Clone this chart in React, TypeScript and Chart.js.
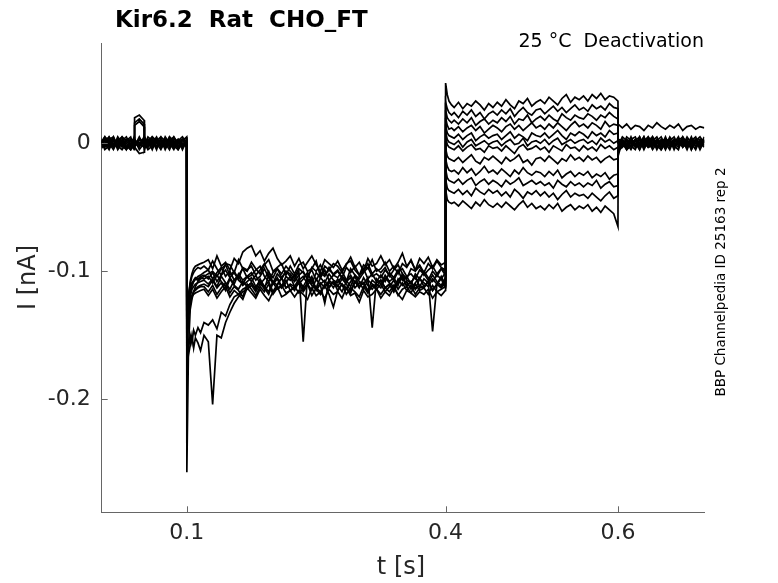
import React, { useEffect, useRef } from 'react';
import { Chart, registerables } from 'chart.js';

Chart.register(...registerables);

// time grids of the four protocol segments (s)
const timeBase = [0, 0.005, 0.01, 0.015, 0.02, 0.025, 0.03, 0.035, 0.039,
  0.0395, 0.045, 0.0505,
  0.051, 0.055, 0.06, 0.065, 0.07, 0.075, 0.08, 0.085, 0.09, 0.095, 0.0999];

const timeStep = [0.1001, 0.102, 0.104, 0.106, 0.108, 0.11, 0.113, 0.116, 0.12,
  0.125, 0.13, 0.135, 0.14, 0.145, 0.15, 0.155, 0.16, 0.165, 0.17,
  0.175, 0.18, 0.185, 0.19, 0.195, 0.2, 0.205, 0.21, 0.215, 0.22,
  0.225, 0.23, 0.235, 0.24, 0.245, 0.25, 0.255, 0.26, 0.265, 0.27,
  0.275, 0.28, 0.285, 0.29, 0.295, 0.3, 0.305, 0.31, 0.315, 0.32,
  0.325, 0.33, 0.335, 0.34, 0.345, 0.35, 0.355, 0.36, 0.365, 0.37,
  0.375, 0.38, 0.385, 0.39, 0.395, 0.3999];

const timeTail = [0.4001, 0.402, 0.404, 0.407,
  0.41, 0.415, 0.42, 0.425, 0.43, 0.435, 0.44, 0.445, 0.45, 0.455,
  0.46, 0.465, 0.47, 0.475, 0.48, 0.485, 0.49, 0.495, 0.5, 0.505,
  0.51, 0.515, 0.52, 0.525, 0.53, 0.535, 0.54, 0.545, 0.55, 0.555,
  0.56, 0.565, 0.57, 0.575, 0.58, 0.585, 0.59, 0.595, 0.5999];

const timeOff = [0.6001,
  0.605, 0.61, 0.615, 0.62, 0.625, 0.63, 0.635, 0.64, 0.645, 0.65,
  0.655, 0.66, 0.665, 0.67, 0.675, 0.68, 0.685, 0.69, 0.695, 0.7];

// current per sweep in pA (12 sweeps)
const baseCurrent = [
  [3, -2, 5, 0, -3, 2, 5, -2, 0, 3, -2, 5, 2, -3, 0, 5, -2, 3, 0, -3, 2, 5, 0],
  [-2, 3, 0, -5, 2, 5, -3, 0, 2, -2, 3, 0, -3, 2, 5, 0, -5, 2, 3, -2, 0, -3, 2],
  [2, -3, 3, 2, -2, -5, 0, 3, -2, 20, 22, 18, 2, -2, 3, -3, 2, 0, -5, 3, 2, -2, 3],
  [-5, 0, 2, -3, 5, 0, -2, -5, 3, 0, -3, 2, 5, 0, -3, 2, 5, -3, 0, 2, -5, 0, -2],
  [0, 5, -3, 2, 0, -2, 3, 2, -5, 2, 0, -3, -2, 5, 2, -3, 0, 3, -2, 5, 0, 3, -3],
  [3, -5, -2, 5, -3, 3, -5, 0, 2, 16, 19, 15, 0, -5, -2, 3, -3, -2, 5, 0, -3, 2, 5],
  [-3, 2, 5, -2, 3, -3, 2, 5, -3, -2, 2, 3, -5, 3, 0, -2, 3, -5, 2, -3, 3, -2, 0],
  [2, 0, -5, 3, -2, 2, -3, -2, 5, 3, -5, 0, 3, -3, 5, 2, -2, 0, 3, -2, -5, 3, 2],
  [-2, 5, 2, -3, 0, 5, 2, -3, 0, 14, 17, 13, -2, 2, -5, 3, 0, -3, 2, 5, -2, 0, -3],
  [5, -3, 0, 3, -5, 0, 3, 2, -3, -3, 5, -2, 3, 0, 2, -5, 5, 2, -3, 0, 3, -5, 2],
  [0, 2, -3, -2, 3, -2, -5, 3, 2, -3, -8, -7, 0, 3, -2, 2, -3, 5, 0, -5, 2, 3, -2],
  [-3, -2, 3, 5, -2, 2, 0, -5, -2, 2, 0, 3, -3, -2, 3, 0, 2, -2, 5, 2, -3, -2, 0],
];

const stepCurrent = [
  [-150, -120, -108, -102, -98, -96, -95, -94, -93,
    -91, -98, -88, -96, -93, -99, -90, -94, -85, -82,
    -80, -88, -84, -92, -86, -82, -90, -95, -92, -88,
    -96, -90, -98, -93, -88, -95, -100, -91, -94, -97,
    -92, -99, -95, -89, -97, -93, -100, -90, -96, -94,
    -88, -95, -91, -98, -93, -86, -96, -92, -99, -90,
    -94, -89, -97, -91, -95, -93],
  [-140, -118, -110, -104, -101, -99, -97, -98, -96,
    -99, -92, -98, -103, -94, -95, -101, -91, -98, -100,
    -93, -98, -102, -95, -91, -100, -97, -94, -103, -96,
    -102, -95, -93, -100, -98, -92, -104, -96, -99, -94,
    -96, -101, -94, -92, -99, -103, -95, -98, -91, -100,
    -98, -93, -100, -96, -102, -94, -97, -91, -99, -95,
    -101, -94, -98, -92, -97, -99],
  [-257, -160, -130, -122, -116, -112, -108, -106, -104,
    -102, -100, -104, -98, -95, -103, -100, -106, -97, -99,
    -96, -103, -99, -94, -101, -105, -98, -102, -96, -100,
    -104, -98, -101, -106, -97, -100, -95, -103, -99, -102,
    -99, -105, -97, -101, -96, -103, -100, -94, -102, -98,
    -101, -97, -104, -99, -95, -102, -106, -98, -100, -96,
    -103, -99, -96, -102, -98, -100],
  [-160, -130, -118, -112, -108, -106, -104, -103, -101,
    -99, -106, -101, -97, -104, -100, -107, -103, -98, -105,
    -103, -99, -96, -104, -108, -101, -98, -105, -100, -102,
    -106, -100, -155, -103, -99, -107, -101, -104, -97, -103,
    -100, -105, -108, -98, -103, -106, -101, -97, -104, -102,
    -105, -99, -103, -107, -100, -98, -104, -102, -106, -99,
    -102, -107, -100, -104, -98, -103],
  [-145, -124, -114, -110, -107, -105, -106, -104, -103,
    -106, -101, -108, -103, -99, -105, -110, -102, -107, -104,
    -101, -107, -104, -98, -105, -109, -102, -106, -100, -104,
    -108, -103, -100, -106, -110, -101, -105, -99, -107, -103,
    -105, -100, -107, -103, -109, -104, -98, -106, -102, -108,
    -103, -108, -101, -105, -99, -107, -104, -110, -102, -106,
    -100, -105, -108, -103, -106, -101],
  [-170, -160, -150, -156, -146, -150, -144, -148, -140,
    -142, -138, -145, -132, -135, -126, -120, -118, -114, -112,
    -109, -114, -107, -112, -116, -108, -111, -105, -113, -110,
    -112, -106, -114, -109, -104, -115, -110, -107, -113, -108,
    -111, -116, -108, -105, -113, -109, -114, -107, -110, -112,
    -107, -113, -110, -116, -106, -111, -108, -114, -109, -105,
    -112, -108, -115, -110, -106, -113],
  [-135, -120, -112, -109, -108, -106, -107, -105, -106,
    -104, -109, -103, -108, -112, -105, -101, -107, -110, -104,
    -108, -103, -110, -106, -100, -109, -105, -112, -104, -107,
    -103, -110, -106, -101, -108, -113, -105, -109, -102, -107,
    -109, -104, -107, -112, -103, -108, -110, -105, -144, -106,
    -110, -103, -108, -105, -111, -102, -107, -109, -104, -112,
    -106, -109, -103, -108, -111, -105],
  [-155, -132, -120, -114, -112, -110, -109, -108, -107,
    -110, -106, -112, -104, -109, -114, -107, -103, -111, -108,
    -105, -112, -108, -114, -103, -110, -106, -113, -109, -104,
    -112, -107, -104, -110, -115, -106, -111, -125, -108, -113,
    -106, -111, -114, -108, -104, -112, -109, -115, -107, -110,
    -113, -105, -109, -112, -107, -103, -111, -108, -114, -106,
    -109, -112, -106, -110, -104, -111],
  [-175, -165, -158, -150, -160, -152, -156, -162, -150,
    -155, -204, -150, -152, -140, -132, -125, -120, -116, -114,
    -111, -116, -110, -113, -118, -109, -114, -112, -107, -115,
    -113, -109, -116, -111, -106, -114, -118, -110, -112, -108,
    -115, -110, -113, -117, -108, -112, -109, -116, -111, -114,
    -110, -116, -112, -107, -114, -109, -115, -111, -118, -113,
    -112, -108, -115, -110, -113, -109],
  [-165, -138, -126, -120, -116, -114, -112, -111, -110,
    -112, -107, -113, -109, -115, -106, -111, -114, -108, -112,
    -109, -114, -106, -112, -108, -116, -110, -105, -113, -111,
    -115, -108, -112, -106, -111, -114, -109, -113, -107, -110,
    -112, -106, -110, -115, -108, -113, -105, -111, -114, -109,
    -107, -113, -110, -116, -109, -105, -112, -108, -114, -111,
    -113, -108, -147, -110, -112, -107],
  [-150, -132, -124, -119, -116, -115, -113, -112, -112,
    -116, -111, -118, -113, -109, -117, -112, -115, -120, -110,
    -114, -119, -112, -116, -110, -118, -113, -111, -117, -115,
    -112, -117, -114, -110, -119, -113, -116, -111, -118, -128,
    -115, -110, -118, -113, -116, -120, -112, -117, -111, -114,
    -118, -113, -116, -111, -119, -114, -112, -117, -110, -115,
    -113, -118, -111, -116, -114, -112],
  [-145, -130, -124, -120, -118, -117, -116, -115, -114,
    -119, -114, -121, -116, -112, -120, -115, -118, -122, -113,
    -117, -121, -114, -119, -123, -116, -112, -120, -118, -115,
    -120, -115, -118, -122, -113, -119, -116, -121, -114, -118,
    -116, -121, -113, -119, -117, -124, -115, -120, -118, -114,
    -121, -116, -119, -113, -118, -122, -115, -117, -120, -116,
    -118, -114, -121, -116, -119, -115],
];

const tailCurrent = [
  [47, 38, 33, 30, 28, 32, 27, 31, 29, 33, 30, 26, 31, 28, 32, 29, 34, 30, 27, 33, 31, 35, 29, 32,
    34, 31, 36, 33, 30, 35, 38, 32, 36, 34, 37, 33, 38, 35, 39, 34, 37, 36, 33],
  [32, 27, 24, 22, 24, 20, 25, 22, 26, 21, 24, 19, 23, 25, 22, 26, 23, 27, 21, 25, 28, 24, 22, 26,
    27, 23, 26, 29, 25, 28, 24, 27, 30, 26, 28, 25, 30, 27, 29, 26, 31, 28, 27],
  [26, 20, 18, 16, 18, 15, 19, 16, 20, 14, 17, 19, 15, 18, 16, 20, 17, 21, 15, 19, 18, 22, 16, 19,
    21, 18, 22, 19, 17, 23, 20, 18, 22, 20, 19, 23, 21, 18, 22, 20, 24, 21, 19],
  [20, 14, 11, 12, 10, 13, 9, 12, 14, 10, 13, 8, 11, 14, 12, 9, 13, 15, 11, 14, 10, 13, 16, 12,
    14, 11, 15, 12, 16, 13, 10, 14, 17, 13, 15, 12, 16, 14, 11, 17, 13, 15, 14],
  [14, 8, 6, 5, 4, 7, 3, 6, 8, 2, 5, 7, 4, 6, 7, 3, 6, 9, 4, 7, 5, 2, 8, 6,
    5, 8, 4, 7, 10, 6, 3, 8, 6, 9, 7, 4, 9, 6, 8, 5, 10, 7, 8],
  [9, 3, 1, 0, -1, 2, -3, 1, 3, -2, 0, 2, -1, 1, 2, -2, 1, 3, -1, 0, 4, -2, 1, 2,
    0, 3, -1, 2, 4, -1, 1, 3, 0, 2, 3, 0, 2, -1, 4, 1, 3, 0, 2],
  [5, -1, -3, -4, -5, -2, -6, -3, -1, -5, -4, -7, -2, -4, -3, -6, -2, -5, -8, -3, -1, -5, -4, -2,
    -5, -3, -7, -2, -4, -6, -1, -4, -3, -6, -2, -5, -3, -6, -1, -4, -2, -5, -3],
  [-4, -10, -12, -13, -14, -11, -15, -12, -9, -14, -16, -11, -13, -10, -13, -16, -11, -14, -12, -9, -15, -13, -17, -12,
    -11, -14, -10, -13, -16, -12, -14, -9, -13, -11, -14, -10, -13, -11, -15, -12, -10, -13, -12],
  [-12, -18, -21, -22, -21, -24, -19, -23, -20, -25, -22, -18, -23, -21, -24, -20, -23, -26, -21, -24, -19, -23, -25, -22,
    -23, -26, -22, -25, -21, -27, -24, -22, -26, -23, -25, -22, -27, -24, -26, -23, -28, -25, -24],
  [-20, -27, -29, -30, -31, -28, -32, -29, -27, -33, -30, -28, -32, -29, -31, -34, -29, -32, -30, -27, -33, -31, -29, -32,
    -30, -33, -31, -35, -29, -32, -34, -30, -33, -31, -34, -31, -33, -29, -35, -32, -30, -34, -33],
  [-28, -35, -37, -38, -39, -36, -40, -37, -41, -35, -38, -40, -36, -39, -37, -41, -38, -42, -36, -39, -43, -38, -40, -37,
    -41, -38, -42, -39, -44, -40, -37, -42, -39, -41, -40, -43, -39, -42, -45, -41, -38, -43, -41],
  [-36, -44, -46, -47, -46, -49, -45, -48, -51, -46, -49, -44, -48, -50, -47, -50, -46, -49, -52, -48, -45, -50, -47, -51,
    -49, -52, -48, -51, -47, -53, -50, -48, -52, -49, -51, -48, -53, -50, -54, -49, -52, -55, -65],
];

const offCurrent = [
  [15, 12, 15, 11, 14, 13, 10, 14, 12, 16, 13, 11, 14, 12, 15, 10, 13, 14, 11, 13, 12],
  [3, 2, -3, 3, 0, -5, 2, 5, -2, 3, 0, -3, 2, 5, -2, 0, 3, -5, 2, -2, 3],
  [2, -2, 3, 0, -3, 5, -2, 0, 3, -5, 2, 3, -2, 0, 5, -3, 2, -2, 3, 0, -3],
  [1, 3, 0, -5, 2, -2, 5, -3, 0, 2, -2, 5, -3, 2, 0, 3, -2, 5, -3, 2, 0],
  [0, -3, 5, 2, -2, 3, -5, 2, 5, 0, -3, 2, 0, -3, 3, -2, 5, 0, -5, 3, 2],
  [-1, 0, -5, 3, 5, -2, 0, 3, -3, 2, 5, -2, 3, -5, 2, 0, -3, 3, 2, -2, 5],
  [-2, 5, 2, -2, -5, 3, 0, -3, 2, 5, -2, 0, -5, 3, 2, -3, 0, 2, 5, -3, 0],
  [-3, -2, 3, 0, 3, -5, 2, -2, 5, -3, 0, 3, 2, -2, -5, 5, 0, -3, 2, 3, -2],
  [-4, 3, -2, 5, -3, 0, 3, 2, -5, 0, 3, -2, 5, 0, -3, 2, -5, 3, 0, -2, 2],
  [-5, 0, 2, -3, 2, 5, -3, 0, 3, -2, -5, 2, -3, 3, 0, -2, 3, -5, 2, 5, 0],
  [-6, -3, 0, 2, -2, 3, -2, 5, 0, -3, 2, -5, 2, -2, 3, 0, -3, 2, -2, 0, 3],
  [-10, 2, -5, -2, 3, 0, 5, -3, -2, 3, -5, 0, 3, -3, 2, 5, -2, 0, 3, -5, 2],
];

const xTicks = [0.1, 0.4, 0.6];
const xTickLabels = ['0.1', '0.4', '0.6'];
const yTicks = [-0.2, -0.1, 0];
const yTickLabels = ['-0.2', '-0.1', '0'];

const FONT = '"DejaVu Sans", sans-serif';
const AXIS_COLOR = '#666666';
const TEXT_COLOR = '#262626';

const toPoints = (times: number[], values: number[]) =>
  times.map((t, i) => ({ x: t, y: values[i] / 1000 }));

const textPlugin = {
  id: 'matlabText',
  afterDraw(chart: Chart) {
    const { ctx, chartArea, scales } = chart;
    ctx.save();
    // inward tick marks
    ctx.strokeStyle = AXIS_COLOR;
    ctx.lineWidth = 1;
    ctx.beginPath();
    xTicks.forEach((v) => {
      const px = Math.round(scales.x.getPixelForValue(v)) + 0.5;
      ctx.moveTo(px, chartArea.bottom);
      ctx.lineTo(px, chartArea.bottom - 6);
    });
    yTicks.forEach((v) => {
      const py = Math.round(scales.y.getPixelForValue(v)) + 0.5;
      ctx.moveTo(chartArea.left, py);
      ctx.lineTo(chartArea.left + 6, py);
    });
    ctx.stroke();

    ctx.fillStyle = '#000';
    ctx.font = `bold 23px ${FONT}`;
    ctx.textAlign = 'left';
    ctx.textBaseline = 'alphabetic';
    ctx.fillText('Kir6.2  Rat  CHO_FT', 115, 27);

    ctx.font = `19px ${FONT}`;
    ctx.textAlign = 'right';
    ctx.fillText('25 °C  Deactivation', 704, 47);

    ctx.fillStyle = TEXT_COLOR;
    ctx.font = `24px ${FONT}`;
    ctx.textAlign = 'center';
    ctx.fillText('t [s]', 401, 574);

    ctx.save();
    ctx.translate(35, 277.5);
    ctx.rotate(-Math.PI / 2);
    ctx.fillText('I [nA]', 0, 0);
    ctx.restore();

    ctx.save();
    ctx.fillStyle = '#000';
    ctx.font = `13.5px ${FONT}`;
    ctx.translate(725, 282);
    ctx.rotate(-Math.PI / 2);
    ctx.fillText('BBP Channelpedia ID 25163 rep 2', 0, 0);
    ctx.restore();

    ctx.restore();
  },
};

const App: React.FC = () => {
  const canvasRef = useRef<HTMLCanvasElement | null>(null);
  const chartRef = useRef<Chart | null>(null);

  useEffect(() => {
    if (!canvasRef.current) return;
    if (chartRef.current) chartRef.current.destroy();

    const datasets = baseCurrent.map((_, k) => ({
      data: [
        ...toPoints(timeBase, baseCurrent[k]),
        ...toPoints(timeStep, stepCurrent[k]),
        ...toPoints(timeTail, tailCurrent[k]),
        ...toPoints(timeOff, offCurrent[k]),
      ],
      borderColor: '#000000',
      borderWidth: 1.7,
      borderJoinStyle: 'miter' as const,
      pointRadius: 0,
      tension: 0,
      fill: false,
    }));

    chartRef.current = new Chart(canvasRef.current, {
      type: 'line',
      data: { datasets },
      options: {
        responsive: false,
        animation: false,
        layout: { padding: { top: 43.3, right: 73.7, left: 0, bottom: 0 } },
        plugins: {
          legend: { display: false },
          tooltip: { enabled: false },
          title: { display: false },
        },
        scales: {
          x: {
            type: 'linear',
            min: 0.0014,
            max: 0.7,
            afterBuildTicks: (axis: any) => {
              axis.ticks = xTicks.map((v) => ({ value: v }));
            },
            afterFit: (axis: any) => {
              axis.height = 70.7;
            },
            ticks: {
              callback: (_v: any, i: number) => xTickLabels[i],
              font: { family: FONT, size: 22 },
              color: TEXT_COLOR,
              padding: 8,
              maxRotation: 0,
              autoSkip: false,
            },
            grid: { display: false, drawTicks: false },
            border: { display: true, color: AXIS_COLOR, width: 1 },
          },
          y: {
            type: 'linear',
            min: -0.2883,
            max: 0.0781,
            afterBuildTicks: (axis: any) => {
              axis.ticks = yTicks.map((v) => ({ value: v }));
            },
            afterFit: (axis: any) => {
              axis.width = 101.7;
            },
            ticks: {
              callback: (_v: any, i: number) => yTickLabels[i],
              font: { family: FONT, size: 22 },
              color: TEXT_COLOR,
              padding: 11,
              autoSkip: false,
            },
            grid: { display: false, drawTicks: false },
            border: { display: true, color: AXIS_COLOR, width: 1 },
          },
        },
      },
      plugins: [textPlugin],
    });

    return () => {
      if (chartRef.current) {
        chartRef.current.destroy();
        chartRef.current = null;
      }
    };
  }, []);

  return (
    <div style={{ position: 'fixed', left: 0, top: 0, width: 778, height: 583, background: '#fff' }}>
      <canvas ref={canvasRef} width={778} height={583} />
    </div>
  );
};

export default App;
